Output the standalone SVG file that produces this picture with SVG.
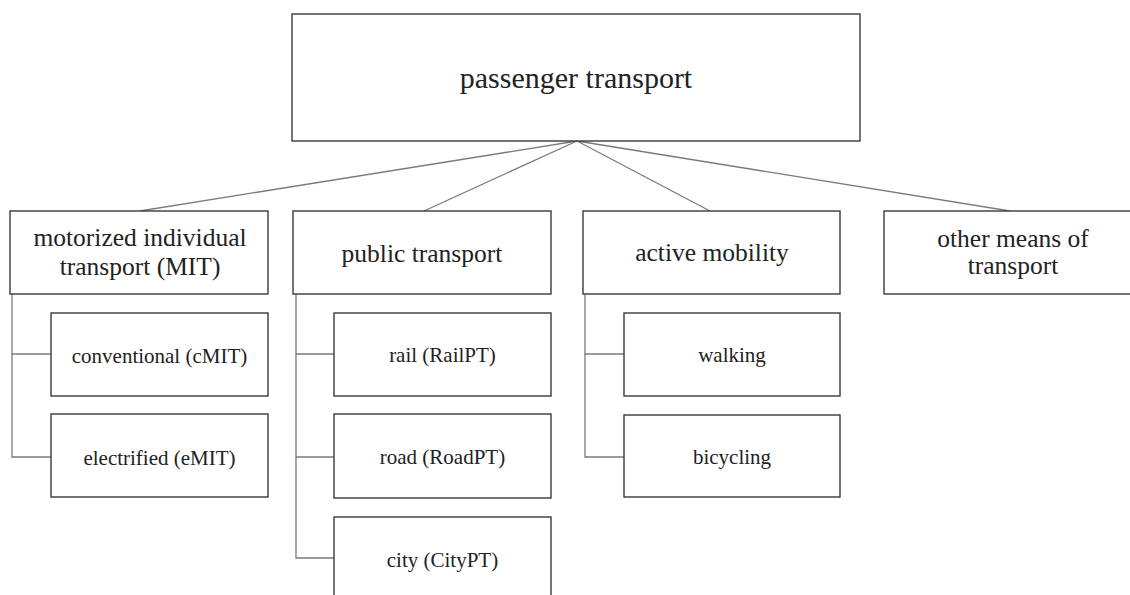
<svg xmlns="http://www.w3.org/2000/svg" width="1130" height="595" viewBox="0 0 1130 595">
<style>
.box{fill:#fff;stroke:#3a3a3a;stroke-width:1.4}
.con{fill:none;stroke:#7a7a7a;stroke-width:1.3}
text{font-family:"Liberation Serif","Times New Roman",serif;fill:#222;text-anchor:middle}
.t0{font-size:30px}
.t1{font-size:25.5px}
.t2{font-size:21px}
</style>
<rect width="1130" height="595" fill="#fff"/>
<g id="connectors">
<line class="con" x1="577" y1="141" x2="140" y2="211"/>
<line class="con" x1="577" y1="141" x2="424" y2="211"/>
<line class="con" x1="577" y1="141" x2="710" y2="211"/>
<line class="con" x1="577" y1="141" x2="1010" y2="211"/>
<polyline class="con" points="51,354 12,354 12,294"/>
<polyline class="con" points="51,457 12,457 12,354"/>
<polyline class="con" points="334,354 296,354 296,252"/>
<polyline class="con" points="334,457 296,457 296,354"/>
<polyline class="con" points="334,558 296,558 296,457"/>
<polyline class="con" points="624,354 585,354 585,250"/>
<polyline class="con" points="624,457 585,457 585,354"/>
</g>
<g id="passenger-transport">
<rect class="box" x="292" y="14" width="568" height="127"/>
<text class="t0" x="576" y="88">passenger transport</text>
</g>
<g id="mit">
<rect class="box" x="10" y="211" width="258" height="83"/>
<text class="t1" x="140" y="246">motorized individual</text>
<text class="t1" x="140" y="275">transport (MIT)</text>
</g>
<g id="public-transport">
<rect class="box" x="293" y="211" width="258" height="83"/>
<text class="t1" x="422" y="262">public transport</text>
</g>
<g id="active-mobility">
<rect class="box" x="583" y="211" width="257" height="83"/>
<text class="t1" x="712" y="261">active mobility</text>
</g>
<g id="other-means">
<rect class="box" x="884" y="211" width="258" height="83"/>
<text class="t1" x="1013" y="247">other means of</text>
<text class="t1" x="1013" y="274">transport</text>
</g>
<g id="cmit">
<rect class="box" x="51" y="313" width="217" height="83"/>
<text class="t2" x="159.5" y="363">conventional (cMIT)</text>
</g>
<g id="emit">
<rect class="box" x="51" y="414" width="217" height="83"/>
<text class="t2" x="159.5" y="465">electrified (eMIT)</text>
</g>
<g id="railpt">
<rect class="box" x="334" y="313" width="217" height="83"/>
<text class="t2" x="442.5" y="362">rail (RailPT)</text>
</g>
<g id="roadpt">
<rect class="box" x="334" y="414" width="217" height="84"/>
<text class="t2" x="442.5" y="464">road (RoadPT)</text>
</g>
<g id="citypt">
<rect class="box" x="334" y="517" width="217" height="90"/>
<text class="t2" x="442.5" y="567">city (CityPT)</text>
</g>
<g id="walking">
<rect class="box" x="624" y="313" width="216" height="83"/>
<text class="t2" x="732" y="362">walking</text>
</g>
<g id="bicycling">
<rect class="box" x="624" y="415" width="216" height="82"/>
<text class="t2" x="732" y="464">bicycling</text>
</g>
</svg>
